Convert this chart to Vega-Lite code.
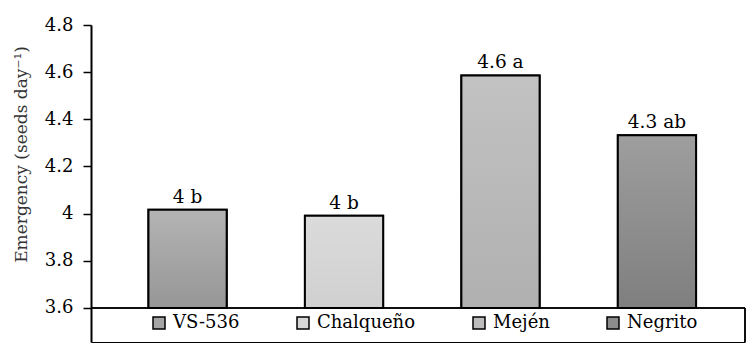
{
  "$schema": "https://vega.github.io/schema/vega-lite/v6.json",
  "width": 654,
  "height": 317,
  "autosize": "none",
  "padding": {"left": 91, "top": 25, "right": 11, "bottom": 15},
  "background": "white",
  "config": {
    "view": {"stroke": null},
    "font": "DejaVu Serif",
    "legend": {
      "orient": "none",
      "legendX": 59,
      "legendY": 289,
      "direction": "horizontal",
      "columnPadding": 54,
      "symbolType": "square",
      "symbolSize": 144,
      "symbolStrokeColor": "black",
      "symbolStrokeWidth": 1.5,
      "symbolOpacity": 1,
      "labelFont": "DejaVu Serif",
      "labelFontSize": 18,
      "labelColor": "black",
      "labelOffset": 5,
      "labelLimit": 300,
      "padding": 0
    }
  },
  "data": {
    "values": [
      {"variety": "VS-536", "value": 4.017, "label": "4 b"},
      {"variety": "Chalqueño", "value": 3.991, "label": "4 b"},
      {"variety": "Mején", "value": 4.586, "label": "4.6 a"},
      {"variety": "Negrito", "value": 4.332, "label": "4.3 ab"}
    ]
  },
  "layer": [
    {
      "mark": {"type": "bar", "stroke": "black", "strokeWidth": 2},
      "encoding": {
        "x": {
          "field": "variety",
          "type": "nominal",
          "sort": ["VS-536", "Chalqueño", "Mején", "Negrito"],
          "scale": {"paddingInner": 0.5, "paddingOuter": 0.34, "align": 0.54},
          "axis": {"title": null, "labels": false, "ticks": false, "domainColor": "black", "domainWidth": 1}
        },
        "y": {
          "field": "value",
          "type": "quantitative",
          "scale": {"domain": [3.4558, 4.8], "nice": false, "zero": false},
          "axis": {
            "values": [3.6, 3.8, 4.0, 4.2, 4.4, 4.6, 4.8],
            "format": "~g",
            "grid": false,
            "domainColor": "black",
            "domainWidth": 2,
            "tickColor": "black",
            "tickWidth": 1.5,
            "tickSize": 8,
            "labelFont": "DejaVu Serif",
            "labelFontSize": 18,
            "labelColor": "black",
            "labelPadding": 10,
            "title": "Emergency (seeds day⁻¹)",
            "titleFont": "DejaVu Serif",
            "titleFontSize": 17,
            "titleFontWeight": "normal",
            "titleColor": "#333333",
            "titlePadding": 14,
            "titleY": 129
          }
        },
        "y2": {"datum": 3.6},
        "fill": {
          "field": "variety",
          "type": "nominal",
          "scale": {
            "domain": ["VS-536", "Chalqueño", "Mején", "Negrito"],
            "range": ["#a5a5a5", "#d6d6d6", "#bdbdbd", "#8c8c8c"]
          },
          "legend": {"title": null}
        }
      }
    },
    {
      "mark": {"type": "bar", "stroke": "black", "strokeWidth": 2},
      "encoding": {
        "x": {"field": "variety", "type": "nominal", "sort": ["VS-536", "Chalqueño", "Mején", "Negrito"]},
        "y": {"field": "value", "type": "quantitative"},
        "y2": {"datum": 3.6},
        "fill": {
          "condition": [
            {"test": "datum.variety === 'VS-536'", "value": {"gradient": "linear", "x1": 0, "y1": 0, "x2": 0, "y2": 1, "stops": [{"offset": 0, "color": "#b4b4b4"}, {"offset": 1, "color": "#969696"}]}},
            {"test": "datum.variety === 'Chalqueño'", "value": {"gradient": "linear", "x1": 0, "y1": 0, "x2": 0, "y2": 1, "stops": [{"offset": 0, "color": "#dbdbdb"}, {"offset": 1, "color": "#d0d0d0"}]}},
            {"test": "datum.variety === 'Mején'", "value": {"gradient": "linear", "x1": 0, "y1": 0, "x2": 0, "y2": 1, "stops": [{"offset": 0, "color": "#c2c2c2"}, {"offset": 1, "color": "#b0b0b0"}]}}
          ],
          "value": {"gradient": "linear", "x1": 0, "y1": 0, "x2": 0, "y2": 1, "stops": [{"offset": 0, "color": "#9e9e9e"}, {"offset": 1, "color": "#7f7f7f"}]}
        }
      }
    },
    {
      "mark": {"type": "text", "dy": -7, "baseline": "alphabetic", "fontSize": 18.5, "font": "DejaVu Serif", "color": "black"},
      "encoding": {
        "x": {"field": "variety", "type": "nominal", "sort": ["VS-536", "Chalqueño", "Mején", "Negrito"]},
        "y": {"field": "value", "type": "quantitative"},
        "text": {"field": "label"}
      }
    },
    {
      "mark": {"type": "rule", "color": "black", "strokeWidth": 1},
      "encoding": {"y": {"datum": 3.6}}
    },
    {
      "mark": {"type": "rule", "color": "black", "strokeWidth": 1},
      "encoding": {"x": {"value": "width"}, "y": {"datum": 3.6}, "y2": {"datum": 3.4558}}
    }
  ]
}
